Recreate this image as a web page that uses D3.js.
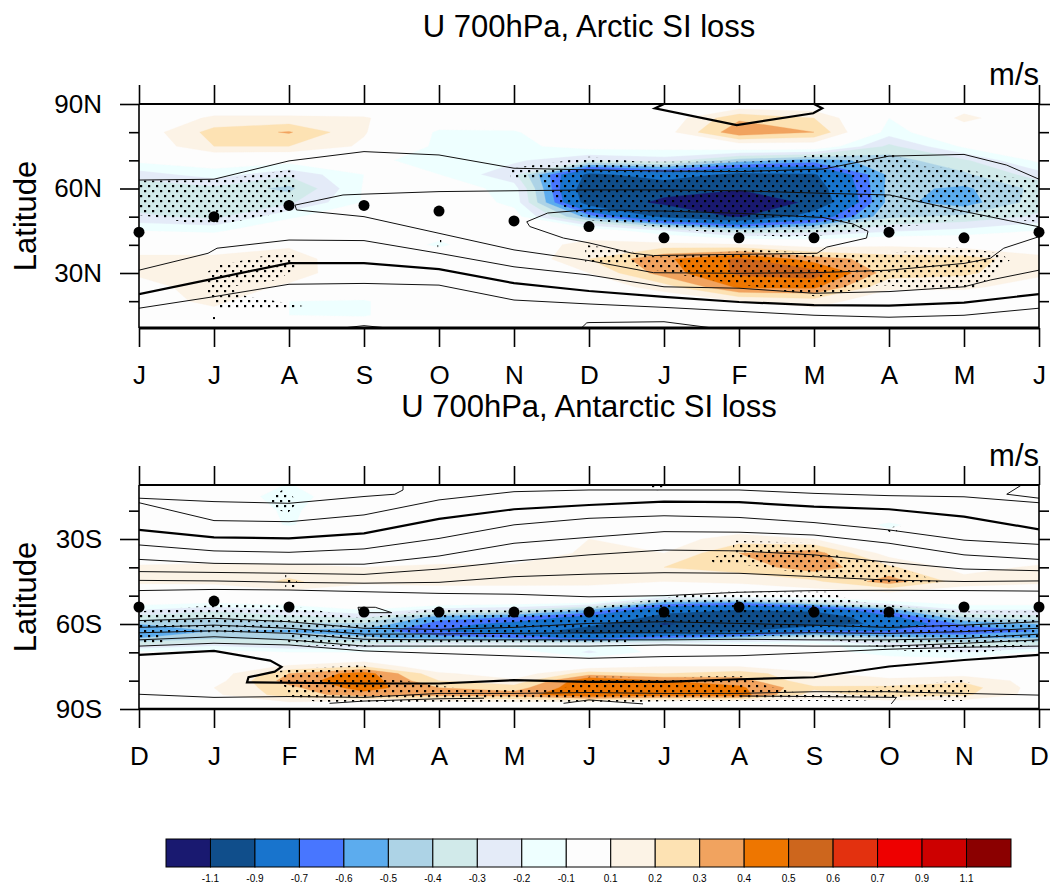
<!DOCTYPE html>
<html>
<head>
<meta charset="utf-8">
<script src="https://cdn.jsdelivr.net/npm/d3@7"></script>
<style>
  html, body { margin: 0; padding: 0; background: #fff; }
  text { font-family: "Liberation Sans", Arial, sans-serif; fill: #000; }
</style>
</head>
<body>
<div id="chart"></div>
<script>
// shading levels and colours
var levels = [-1.1, -0.9, -0.7, -0.6, -0.5, -0.4, -0.3, -0.2, -0.1, 0.1, 0.2, 0.3, 0.4, 0.5, 0.6, 0.7, 0.9, 1.1];
var colours = ["#191970", "#104e8b", "#1874cd", "#4876ff", "#5cacee", "#add3e6", "#d1eaea", "#e4ebf8", "#eeffff",
  "#fdfdfd", "#fcf3e6", "#fde2b3", "#f1a35f", "#ee7600", "#cd661d", "#e3310f", "#ee0000", "#cd0000", "#8b0000"];
var levelLabels = ["-1.1", "-0.9", "-0.7", "-0.6", "-0.5", "-0.4", "-0.3", "-0.2", "-0.1", "0.1", "0.2", "0.3", "0.4", "0.5", "0.6", "0.7", "0.9", "1.1"];

// top panel
var arcticMonths = ["J", "J", "A", "S", "O", "N", "D", "J", "F", "M", "A", "M", "J"];
var arcticLats = [90, 85, 80, 75, 70, 65, 60, 55, 50, 45, 40, 35, 30, 25, 20, 15, 10];
var arcticField = [
  [0, 0, 0, 0, 0, 0, 0, 0, 0, 0, -.03, .03, 0],
  [0, .12, .12, .11, 0, -.02, 0, .02, .28, .2, -.1, .13, 0],
  [.03, .24, .31, .11, -.12, -.11, 0, .05, .38, .3, -.15, .02, .03],
  [0, .2, .2, .08, -.13, -.13, -.05, -.05, .02, .02, -.33, -.08, 0],
  [-.07, -.03, -.05, -.08, -.13, -.18, -.3, -.25, -.45, -.55, -.45, -.32, -.07],
  [-.25, -.15, -.28, -.1, -.1, -.28, -.95, -.8, -.95, -.92, -.48, -.42, -.25],
  [-.37, -.33, -.43, -.09, -.02, -.15, -1.05, -1.05, -1.08, -1.0, -.47, -.52, -.37],
  [-.35, -.38, -.32, -.09, 0, -.13, -1.0, -1.13, -1.3, -1.05, -.47, -.55, -.35],
  [-.28, -.33, -.12, 0, 0, -.05, -.55, -.95, -1.12, -.8, -.42, -.38, -.28],
  [-.1, -.12, 0, 0, -.05, -.02, 0, -.2, -.4, -.35, -.22, -.17, -.1],
  [.02, .02, .08, 0, -.12, .01, .15, .15, .12, .05, .08, .05, .02],
  [.13, .13, .16, 0, 0, 0, .2, .38, .52, .35, .25, .25, .13],
  [.12, .17, .15, .02, 0, 0, .1, .35, .52, .55, .25, .22, .12],
  [.05, .16, .08, 0, 0, 0, .02, .15, .42, .42, .12, .12, .05],
  [0, .15, -.1, -.11, 0, 0, 0, 0, .1, .15, .02, .01, 0],
  [0, .02, -.1, -.11, 0, 0, 0, 0, 0, .03, 0, 0, 0],
  [0, 0, -.01, 0, 0, 0, 0, 0, 0, 0, 0, 0, 0]
];
var arcticJet = [44.5, 50, 54, 54, 52, 48.5, 46.5, 42.5, 42.5, 42.5, 44.5, 42.5, 44.5];
var arcticThin = [
  [[0, 63], [1, 63.3], [2, 69.8], [3, 73.1], [4, 71.9], [5, 67.2], [6, 66.6], [7, 66.2], [8, 66], [9.12, 66.9], [10, 71.5], [11, 72.1], [11.57, 68.3], [12, 63.3]],
  [[2.08, 54.1], [2.72, 57.7], [3, 58], [4, 58.9], [5, 59.2], [6, 59.5], [7, 59.5], [8, 59.2], [9.12, 58.3], [10.01, 57.7], [10.9, 52.4], [12, 46.4], [12, 42.9], [11.53, 38.8], [11.35, 35.2], [11, 33.4], [10, 31], [9, 30.1], [8, 29.9], [6.86, 30.1], [6, 34.4], [5, 38.2], [4, 44.1], [3, 50], [2.1, 52.4], [2.08, 54.1]],
  [[5.17, 48.2], [5.21, 46.5], [5.66, 42.4], [6, 40.7], [6.58, 37], [6.86, 36.2], [9.04, 37], [9.17, 39.2], [9.7, 42.4], [9.72, 44.8], [9.52, 47.4], [9.12, 49.7], [8, 51.2], [7, 52], [6, 52.5], [5.45, 51.3], [5.17, 48.2]],
  [[0, 31], [.92, 37], [1.04, 38.8], [2, 41.7], [3, 41.5], [4, 37], [5, 32.2], [6, 29.3], [7, 25.1], [8, 24.6], [9, 22.8], [10, 23.4], [11, 25.1], [11.35, 27.5], [12, 31]],
  [[0, 17.5], [1, 21.6], [2, 26], [3, 26.3], [4, 25.7], [5, 20.4], [6, 19], [7, 17.8], [8, 16.4], [9, 15], [10, 14.3], [11, 15], [12, 17.5]],
  [[2.55, 10], [3, 11.3], [3.5, 10]],
  [[5.88, 10], [5.97, 12.3], [6, 12.4], [7, 12.7], [7.7, 10.3]]
];
var arcticThick = [
  [[0, 22.5], [1, 28], [2, 33.5], [3, 33.5], [4, 31.4], [5, 26.4], [6, 23.6], [7, 21.5], [8, 19.7], [9, 18.6], [10, 18.4], [11, 19.5], [12, 22.5]],
  [[7, 90], [6.88, 88.5], [7.97, 82.5], [8.99, 86.7], [9.11, 88.5], [9, 90]]
];
var arcticStipple = [
  [[0, 62.8], [.46, 62.8], [1.08, 63], [1.84, 66], [2.08, 66.6], [2.08, 59.5], [1.97, 51.8], [1.04, 47], [.7, 47.6], [.32, 49.4], [0, 50.6]],
  [[.92, 30.5], [1.08, 32.8], [1.84, 37], [2.06, 37.2], [2.1, 31.7], [1.84, 27.5], [1.21, 25.1], [1.35, 22.2], [2.19, 18.3], [2.01, 17.5], [1.08, 17.5], [.92, 21.6], [.92, 26.9]],
  [[3.98, 42.5], [4.03, 42.5], [4.03, 39], [3.98, 39]],
  [[4.95, 67.2], [5.61, 69.5], [6, 71.3], [6.68, 69.5], [8.15, 69.5], [8.77, 70.7], [9.04, 72.5], [10.01, 72.5], [10.46, 67.8], [10.9, 67.2], [11.57, 64.2], [12, 63], [12, 48.2], [11.12, 50], [10.46, 47], [10.01, 46.2], [9.2, 43.5], [8.59, 42.9], [7.52, 44.7], [6.46, 47.6], [6, 48.8], [5.66, 53.6], [5.61, 54.7], [5.35, 63], [4.95, 63.6]],
  [[5.95, 39.9], [6.46, 38.2], [6.9, 35.8], [8.24, 38.2], [9.04, 37], [10.01, 37], [10.86, 39.3], [11.48, 37], [11.61, 34.6], [11.35, 28.7], [11.12, 24], [10.68, 24], [9.88, 25.7], [9.04, 21.6], [8.24, 25.1], [7.35, 28.7], [6.46, 33.4], [5.95, 34]]
];
var arcticExtraDots = [[1, 14]];

// bottom panel
var antarcticMonths = ["D", "J", "F", "M", "A", "M", "J", "J", "A", "S", "O", "N", "D"];
var antarcticLats = [-10, -15, -20, -25, -30, -35, -40, -45, -50, -52.5, -55, -57.5, -60, -62.5, -65, -67.5, -70, -72.5, -75, -77.5, -80, -82.5, -85, -87.5, -90];
var antarcticField = [
  [0, 0, -.1, 0, 0, 0, 0, 0, 0, 0, 0, 0, 0],
  [0, -.02, -.15, 0, 0, 0, 0, 0, 0, 0, 0, 0, 0],
  [0, 0, -.12, 0, 0, 0, 0, 0, 0, 0, 0, 0, 0],
  [0, 0, -.11, 0, 0, 0, 0, 0, 0, 0, -.12, 0, 0],
  [0, 0, 0, 0, 0, .02, .1, .05, .15, .1, -.05, 0, 0],
  [0, .02, 0, .05, .03, .03, .12, .1, .3, .35, .05, 0, 0],
  [.12, .13, .13, .1, .12, .12, .13, .2, .25, .35, .22, .05, .12],
  [.12, .12, .22, .12, .12, .12, .13, .1, .12, .18, .35, .15, .12],
  [0, .02, .02, .02, .05, .05, .02, -.12, -.02, .01, .02, 0, 0],
  [-.05, -.1, -.05, -.03, -.02, -.05, -.1, -.55, -.6, -.4, -.15, -.05, -.05],
  [-.2, -.28, -.2, -.1, -.25, -.3, -.5, -.85, -.9, -.85, -.55, -.2, -.2],
  [-.33, -.38, -.33, -.28, -.55, -.6, -.75, -.95, -1.0, -1.05, -.75, -.4, -.33],
  [-.5, -.47, -.42, -.42, -.65, -.75, -.85, -1.12, -1.0, -1.0, -.85, -.58, -.5],
  [-.6, -.5, -.52, -.55, -.7, -.8, -1.0, -.95, -.92, -.7, -.7, -.7, -.6],
  [-.5, -.42, -.42, -.48, -.55, -.6, -.75, -.6, -.45, -.3, -.45, -.5, -.5],
  [-.3, -.22, -.3, -.28, -.15, -.15, -.15, -.05, -.02, -.05, -.2, -.33, -.3],
  [-.08, -.05, -.1, -.1, .05, -.03, -.22, -.05, .1, 0, -.2, -.2, -.08],
  [0, 0, 0, .05, 0, -.1, -.05, 0, .03, .02, -.02, -.08, 0],
  [0, 0, .12, .2, 0, 0, .05, .1, .1, .02, 0, 0, 0],
  [0, .03, .3, .45, .12, .03, .25, .2, .25, .12, .02, .05, 0],
  [.05, .05, .35, .47, .2, .12, .5, .4, .35, .12, .14, .18, .05],
  [.05, .1, .27, .45, .3, .25, .5, .45, .42, .22, .22, .25, .05],
  [.05, .08, .25, .35, .33, .35, .5, .45, .45, .15, .25, .22, .05],
  [0, .02, .1, .05, .08, .1, .1, .05, .05, .05, .05, .05, 0],
  [0, 0, 0, 0, 0, 0, 0, 0, 0, 0, 0, 0, 0]
];
var antarcticJet = [-54, -51.9, -54, -55.8, -55.8, -55.8, -55.8, -55.8, -54, -55.8, -55.8, -54, -54];
var antarcticThin = [
  [[0, -15.6], [1, -16.8], [2, -17.4], [3, -15], [3.41, -14.2], [3.52, -12.7], [3.52, -10.7]],
  [[11.77, -10.9], [11.57, -14.2], [12, -15.6]],
  [[0, -17.2], [1, -23.5], [2, -23.9], [3, -21.5], [4, -16.2], [5, -13.3], [6, -12.7], [7, -12.7], [8, -12.7], [9, -13.9], [10, -14.7], [11, -15.1], [12, -17.2]],
  [[0, -32.1], [1, -34.2], [2, -34.7], [3, -33.5], [4, -29.8], [5, -25], [6, -22.7], [7, -21.8], [8, -22.4], [9, -24.2], [10, -26.8], [11, -30.4], [12, -31.9]],
  [[0, -37.2], [1, -38.6], [2, -38.9], [3, -38.9], [4, -36], [5, -31.5], [6, -29.4], [7, -27.4], [8, -27.6], [9, -28.6], [10, -31.5], [11, -35.6], [12, -37.2]],
  [[0, -41.5], [1, -41.8], [2, -42.1], [3, -42.5], [4, -40.6], [5, -37.8], [6, -35.6], [7, -33.9], [8, -34.2], [9, -35.6], [10, -38.2], [11, -40.6], [12, -41.2]],
  [[0, -44.6], [1, -44.8], [2, -45.3], [3, -45.6], [4, -45.3], [5, -43.3], [6, -42.4], [7, -41.9], [8, -42.1], [9, -43.3], [10, -44.5], [11, -45], [12, -44.8]],
  [[0, -48.2], [1, -47.8], [2, -48], [3, -48.6], [4, -49.2], [5, -49.5], [6, -50.4], [7, -50], [8, -48.8], [9, -48.2], [10, -48.1], [11, -48.2], [12, -48.4]],
  [[0, -58.8], [1, -58], [2, -59.2], [3, -61.5], [4, -61.9], [5, -61.2], [6, -59.8], [7, -59.2], [8, -59.8], [9, -60.4], [10, -61.2], [11, -60.4], [12, -59.2]],
  [[0, -61.2], [1, -60.4], [2, -61.5], [3, -63.6], [4, -63.5], [5, -63.3], [6, -63.1], [7, -63.1], [8, -63.3], [9, -63.1], [10, -63.3], [11, -62.7], [12, -61.5]],
  [[0, -63.1], [1, -62.4], [2, -63.3], [3, -65.4], [4, -65.6], [5, -65.6], [6, -65.6], [7, -65.6], [8, -65.4], [9, -65.6], [10, -65.6], [11, -65.1], [12, -63.6]],
  [[0, -65.6], [1, -64.5], [2, -65.6], [3, -67.8], [4, -67.8], [5, -67.8], [6, -67.8], [7, -67.4], [8, -67.6], [9, -67.8], [10, -67.8], [11, -66.8], [12, -65.6]],
  [[0, -67.8], [1, -66.8], [2, -67.4], [3, -69.5], [4, -70.4], [5, -71.3], [6, -72.1], [7, -71.5], [8, -71.2], [9, -70.1], [10, -68.9], [11, -68.2], [12, -67.8]],
  [[2.92, -54.1], [3.15, -54.1], [3.37, -56], [3.06, -56], [2.93, -55.3], [2.92, -54.1]],
  [[0, -84.8], [1, -85.9], [2, -85.6], [3, -85.9], [4, -84.5], [5, -84.5], [6, -84.2], [7, -84.5], [8, -84.5], [9, -83.9], [10, -83.9], [11, -84.5], [12, -85.1]],
  [[2.54, -88], [3, -87.2], [4, -86.4], [4.6, -86.2]],
  [[5.66, -88], [6, -86.8], [6.72, -88.2]],
  [[8, -85.4], [9, -85.6], [10.1, -85.9], [10.03, -88.2]]
];
var antarcticThick = [
  [[0, -26.8], [1, -29.4], [2, -29.8], [3, -28], [4, -22.9], [5, -19.5], [6, -18], [7, -16.8], [8, -17], [9, -18.6], [10, -19.5], [11, -22.1], [12, -26.6]],
  [[0, -70.9], [1, -69.5], [1.75, -72.9], [1.9, -75.1], [1.81, -76.8], [1.46, -78.8], [1.44, -80.6], [3, -81], [4, -81], [5, -79.8], [6, -80.4], [7, -80.4], [8, -79.5], [9, -78.8], [10, -75], [11, -72.7], [12, -70.9]]
];
var antarcticStipple = [
  [[1.92, -12.4], [2.08, -15.6], [2.08, -18], [1.97, -21.3], [1.77, -18], [1.77, -15.6]],
  [[1.95, -42], [2.13, -45.5], [2.13, -47], [1.95, -47]],
  [[0, -55.6], [1, -53.3], [2, -53.5], [3, -58], [4, -54.5], [5, -55.4], [6, -54.3], [6.68, -52.1], [7, -50.9], [7.2, -49.8], [7.8, -48.6], [9.17, -48.6], [9.57, -52.1], [10.46, -54.5], [11, -55.6], [12, -55.6], [12, -66.8], [11.57, -68.9], [11.26, -70.1], [10.46, -70.1], [10, -68.9], [9.57, -66.6], [9, -65], [8.4, -64.2], [7.1, -65], [6.5, -65], [6.5, -66.6], [6, -66.6], [5.66, -66.6], [3.4, -66.6], [3, -68], [2, -67.4], [1.97, -63.9], [.32, -63.9], [.32, -66.6], [0, -66.6]],
  [[1.79, -76.8], [2.24, -75.6], [2.99, -74.5], [3.3, -79.2], [3.95, -81.5], [4.41, -83.3], [5.66, -82.7], [6, -78.6], [6.5, -78.6], [6.68, -79.8], [7.57, -78.4], [8.06, -78.4], [8.24, -80.9], [8.81, -84.5], [9.12, -84.5], [9.57, -83.3], [9.92, -82.1], [10.55, -80.9], [10.97, -79.8], [11.1, -80.9], [11.04, -85.6], [10.97, -87.2], [10.68, -87.2], [10.64, -85.6], [10.24, -85.6], [9.6, -87.2], [7.26, -87.2], [6.64, -87.4], [6, -87.4], [4.5, -87.4], [2.37, -87.4], [1.97, -85.6], [1.97, -82.7], [1.79, -79.2]],
  [[7.92, -30.6], [9.08, -31.5], [9.08, -34.5], [9.48, -36.8], [9.84, -37.4], [10.39, -42.5], [10.79, -46.2], [10.01, -46.2], [9.52, -43.9], [8.9, -42.7], [8.59, -40.9], [8.1, -39.2], [7.68, -39.2], [7.61, -36.8], [7.92, -34.5]],
  [[10.07, -25.5], [10.15, -25.6], [10.06, -28.5], [9.98, -27]],
  [[6.82, -11], [7, -11], [7, -13], [6.82, -12.5]]
];
var antarcticExtraDots = [];

var width = 1050, height = 885;
var svg = d3.select("#chart").append("svg")
  .attr("width", width)
  .attr("height", height)
  .style("display", "block");

// stipple pattern
var pattern = svg.append("defs").append("pattern")
  .attr("id", "stipple")
  .attr("patternUnits", "userSpaceOnUse")
  .attr("width", 8)
  .attr("height", 10);
pattern.append("rect").attr("x", 0).attr("y", 0).attr("width", 2.2).attr("height", 2.2).attr("fill", "#000");
pattern.append("rect").attr("x", 4).attr("y", 5).attr("width", 2.2).attr("height", 2.2).attr("fill", "#000");

var x = d3.scaleLinear().domain([0, 12]).range([139, 1039]);

function drawPanel(p) {
  var y = d3.scaleLinear().domain(p.yDomain).range(p.yRange);
  var g = svg.append("g");

  svg.select("defs").append("clipPath").attr("id", p.id)
    .append("rect")
    .attr("x", x(0))
    .attr("y", p.top)
    .attr("width", x(12) - x(0))
    .attr("height", p.bottom - p.top);

  // shaded field
  var rows = p.lats.length;
  var rowLat = d3.scaleLinear().domain(d3.range(rows)).range(p.lats);
  var project = d3.geoTransform({
    point: function(px, py) {
      this.stream.point(x(px - 0.5), y(rowLat(py - 0.5)));
    }
  });
  var path = d3.geoPath(project);
  var flat = d3.merge(p.field);
  var contours = d3.contours().size([13, rows]);

  var shade = g.append("g").attr("clip-path", "url(#" + p.id + ")");
  shade.append("rect")
    .attr("x", x(0)).attr("y", p.top)
    .attr("width", x(12) - x(0)).attr("height", p.bottom - p.top)
    .attr("fill", colours[0]);
  levels.forEach(function(level, i) {
    shade.append("path")
      .attr("d", path(contours.contour(flat, level)))
      .attr("fill", colours[i + 1])
      .attr("stroke", colours[i + 1])
      .attr("stroke-width", 0.3);
  });

  // significance stipple
  var polyLine = d3.line().x(function(d) { return x(d[0]); }).y(function(d) { return y(d[1]); });
  shade.selectAll("path.stip")
    .data(p.stipple)
    .enter().append("path")
    .attr("class", "stip")
    .attr("d", function(d) { return polyLine(d) + "Z"; })
    .attr("fill", "url(#stipple)");
  shade.selectAll("rect.extra")
    .data(p.extraDots)
    .enter().append("rect")
    .attr("class", "extra")
    .attr("x", function(d) { return x(d[0]) - 1; })
    .attr("y", function(d) { return y(d[1]) - 1; })
    .attr("width", 2).attr("height", 2);

  // climatology contours
  shade.selectAll("path.thin")
    .data(p.thin)
    .enter().append("path")
    .attr("class", "thin")
    .attr("d", polyLine)
    .attr("fill", "none")
    .attr("stroke", "#111")
    .attr("stroke-width", 1);
  shade.selectAll("path.thick")
    .data(p.thick)
    .enter().append("path")
    .attr("class", "thick")
    .attr("d", polyLine)
    .attr("fill", "none")
    .attr("stroke", "#000")
    .attr("stroke-width", 2.2);

  // jet latitude dots
  g.selectAll("circle.jet")
    .data(p.jet)
    .enter().append("circle")
    .attr("class", "jet")
    .attr("cx", function(d, i) { return x(i); })
    .attr("cy", function(d) { return y(d); })
    .attr("r", 5.5)
    .attr("fill", "#000");

  // X axes
  var monthFmt = function(i) { return p.months[i]; };
  var xBottom = g.append("g")
    .attr("transform", "translate(0," + p.bottom + ")")
    .call(d3.axisBottom(x).tickValues(d3.range(13)).tickFormat(monthFmt).tickSize(19).tickSizeOuter(0).tickPadding(19));
  xBottom.selectAll("text").style("font-size", "26px");
  g.append("g")
    .attr("transform", "translate(0," + p.top + ")")
    .call(d3.axisTop(x).tickValues(d3.range(13)).tickFormat("").tickSize(19).tickSizeOuter(0));

  // Y axes, major and minor
  var yLeft = g.append("g")
    .attr("transform", "translate(" + x(0) + ",0)")
    .call(d3.axisLeft(y).tickValues(p.yMajor).tickFormat(function(d) { return Math.abs(d) + p.hemi; }).tickSize(19).tickSizeOuter(0).tickPadding(18));
  yLeft.selectAll("text").style("font-size", "26px");
  g.append("g")
    .attr("transform", "translate(" + x(0) + ",0)")
    .call(d3.axisLeft(y).tickValues(p.yMinor).tickFormat("").tickSize(10).tickSizeOuter(0));
  g.append("g")
    .attr("transform", "translate(" + x(12) + ",0)")
    .call(d3.axisRight(y).tickValues(p.yMajor).tickFormat("").tickSize(19).tickSizeOuter(0));
  g.append("g")
    .attr("transform", "translate(" + x(12) + ",0)")
    .call(d3.axisRight(y).tickValues(p.yMinor).tickFormat("").tickSize(10).tickSizeOuter(0));
  g.selectAll(".domain").attr("stroke", "none");
  g.selectAll(".tick line").attr("stroke", "#000").attr("stroke-width", 1.6);

  // frame
  g.append("line").attr("x1", x(0)).attr("x2", x(12)).attr("y1", p.top).attr("y2", p.top).attr("stroke", "#000").attr("stroke-width", 1.8);
  g.append("line").attr("x1", x(0)).attr("x2", x(12)).attr("y1", p.bottom).attr("y2", p.bottom).attr("stroke", "#000").attr("stroke-width", p.bottomWidth);
  g.append("line").attr("x1", x(0)).attr("x2", x(0)).attr("y1", p.top).attr("y2", p.bottom).attr("stroke", "#000").attr("stroke-width", 1.6);
  g.append("line").attr("x1", x(12)).attr("x2", x(12)).attr("y1", p.top).attr("y2", p.bottom).attr("stroke", "#000").attr("stroke-width", 1.6);

  // titles
  g.append("text")
    .attr("x", 589).attr("y", p.titleY)
    .attr("text-anchor", "middle")
    .style("font-size", "31px")
    .text(p.title);
  g.append("text")
    .attr("x", 1039).attr("y", p.top - 19)
    .attr("text-anchor", "end")
    .style("font-size", "31px")
    .text("m/s");
  g.append("text")
    .attr("transform", "translate(36," + ((p.top + p.bottom) / 2) + ") rotate(-90)")
    .attr("text-anchor", "middle")
    .style("font-size", "31px")
    .text("Latitude");
}

drawPanel({
  id: "clipArctic", title: "U 700hPa, Arctic SI loss", titleY: 37,
  top: 104, bottom: 328, bottomWidth: 3,
  yDomain: [90, 30], yRange: [104, 273],
  yMajor: [90, 60, 30], yMinor: [80, 70, 50, 40, 20], hemi: "N",
  months: arcticMonths, lats: arcticLats, field: arcticField, jet: arcticJet,
  thin: arcticThin, thick: arcticThick, stipple: arcticStipple, extraDots: arcticExtraDots
});

drawPanel({
  id: "clipAntarctic", title: "U 700hPa, Antarctic SI loss", titleY: 417,
  top: 485, bottom: 709, bottomWidth: 2.5,
  yDomain: [-30, -90], yRange: [539, 709],
  yMajor: [-30, -60, -90], yMinor: [-20, -40, -50, -70, -80], hemi: "S",
  months: antarcticMonths, lats: antarcticLats, field: antarcticField, jet: antarcticJet,
  thin: antarcticThin, thick: antarcticThick, stipple: antarcticStipple, extraDots: antarcticExtraDots
});

// colour bar
var barX = d3.scaleLinear().domain([0, colours.length]).range([166, 1011]);
var bar = svg.append("g");
bar.selectAll("rect")
  .data(colours)
  .enter().append("rect")
  .attr("x", function(d, i) { return barX(i); })
  .attr("y", 839)
  .attr("width", barX(1) - barX(0))
  .attr("height", 28)
  .attr("fill", function(d) { return d; })
  .attr("stroke", "#000")
  .attr("stroke-width", 1);
bar.selectAll("text")
  .data(levelLabels)
  .enter().append("text")
  .attr("x", function(d, i) { return barX(i + 1); })
  .attr("y", 882)
  .attr("text-anchor", "middle")
  .style("font-size", "10px")
  .text(function(d) { return d; });
</script>
</body>
</html>
